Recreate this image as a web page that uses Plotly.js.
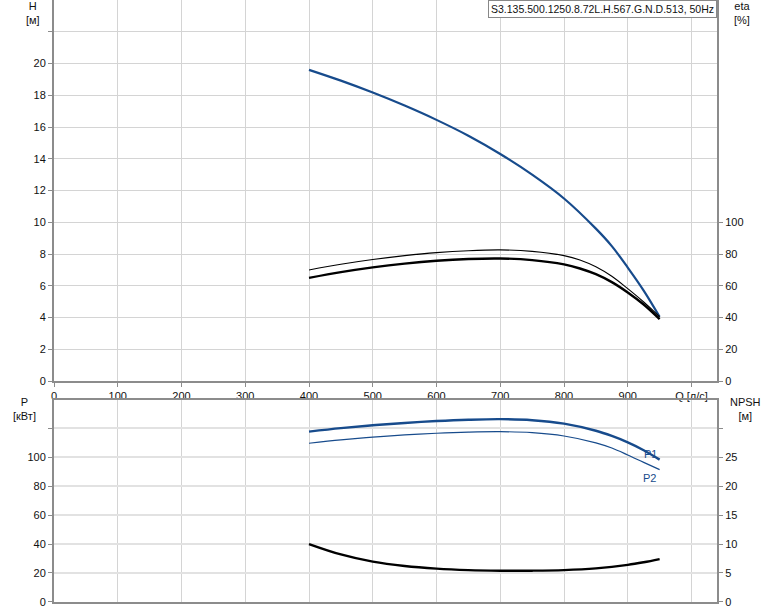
<!DOCTYPE html>
<html><head><meta charset="utf-8">
<script src="https://cdn.plot.ly/plotly-3.0.1.min.js"></script>
<style>body{margin:0;background:#fff}#c{width:774px;height:611px}</style>
</head><body><div id="c"></div>
<script>
// Data
const qH = [400, 450, 500, 550, 600, 650, 700, 750, 800, 850, 875, 900, 925, 950];
const head = [19.6, 18.92, 18.17, 17.35, 16.45, 15.45, 14.3, 13.0, 11.5, 9.6, 8.5, 7.15, 5.7, 4.05];
const qEta = [400, 450, 500, 550, 600, 650, 700, 750, 800, 825, 850, 875, 900, 925, 950];
const etaThin = [70, 73.6, 76.6, 79.0, 80.9, 82.1, 82.6, 81.7, 79.0, 76.3, 72.0, 66.0, 58.2, 49.8, 40.5];
const etaThick = [65, 68.6, 71.6, 74.0, 75.8, 76.9, 77.2, 76.2, 73.5, 70.9, 67.3, 62.3, 55.8, 48.2, 39.0];
const qP = [400, 450, 500, 550, 600, 650, 700, 750, 800, 850, 875, 900, 925, 950];
const p1 = [117.5, 119.9, 121.9, 123.5, 124.8, 125.7, 126.1, 125.4, 123.0, 118.1, 114.5, 110.1, 104.7, 98.2];
const p2 = [109.5, 111.8, 113.7, 115.2, 116.4, 117.2, 117.5, 116.8, 114.5, 109.8, 106.2, 101.4, 96.3, 91.3];
const qN = [400, 450, 500, 550, 600, 650, 700, 750, 800, 850, 900, 925, 950];
const npsh = [10, 8.2, 6.95, 6.2, 5.75, 5.5, 5.4, 5.4, 5.5, 5.8, 6.4, 6.85, 7.4];
const xTicks = [0, 100, 200, 300, 400, 500, 600, 700, 800, 900, 1000];
const xTickText = ["0", "100", "200", "300", "400", "500", "600", "700", "800", "900", "Q [л/с]"];
const hTicks = [0, 2, 4, 6, 8, 10, 12, 14, 16, 18, 20, 22];
const hTickText = ["0", "2", "4", "6", "8", "10", "12", "14", "16", "18", "20", ""];
const etaTicks = [0, 20, 40, 60, 80, 100];
const pTicks = [0, 20, 40, 60, 80, 100, 120];
const pTickText = ["0", "20", "40", "60", "80", "100", ""];
const nTicks = [0, 5, 10, 15, 20, 25, 30];
const nTickText = ["0", "5", "10", "15", "20", "25", ""];
const titleText = "S3.135.500.1250.8.72L.H.567.G.N.D.513, 50Hz";

const blue = "#174b8c";
const font = {family: "Liberation Sans, Arial, sans-serif", size: 11, color: "#111"};
const axisCommon = {showline: true, linecolor: "#8c8c8c", linewidth: 2, ticks: "outside", ticklen: 4, tickcolor: "#8c8c8c", tickfont: font, zeroline: false, fixedrange: true};

const traces = [
  {x: qH, y: head, xaxis: "x", yaxis: "y", mode: "lines", line: {color: blue, width: 2.2, shape: "spline"}, hoverinfo: "skip"},
  {x: qEta, y: etaThin, xaxis: "x", yaxis: "y3", mode: "lines", line: {color: "#000", width: 1.1, shape: "spline"}, hoverinfo: "skip"},
  {x: qEta, y: etaThick, xaxis: "x", yaxis: "y3", mode: "lines", line: {color: "#000", width: 2.4, shape: "spline"}, hoverinfo: "skip"},
  {x: qP, y: p1, xaxis: "x2", yaxis: "y2", mode: "lines", line: {color: blue, width: 2.4, shape: "spline"}, hoverinfo: "skip"},
  {x: qP, y: p2, xaxis: "x2", yaxis: "y2", mode: "lines", line: {color: blue, width: 1.2, shape: "spline"}, hoverinfo: "skip"},
  {x: qN, y: npsh, xaxis: "x2", yaxis: "y4", mode: "lines", line: {color: "#000", width: 2.4, shape: "spline"}, hoverinfo: "skip"}
];

const layout = {
  width: 774, height: 611,
  margin: {l: 54, r: 57, t: 0, b: 9},
  paper_bgcolor: "#fff", plot_bgcolor: "#fff",
  showlegend: false,
  font: font,
  xaxis: Object.assign({}, axisCommon, {domain: [0, 1], range: [0, 1040], tickvals: xTicks, ticktext: xTickText, showgrid: true, gridcolor: "#d4d4d4", gridwidth: 1, anchor: "y"}),
  yaxis: Object.assign({}, axisCommon, {domain: [0.367, 1], range: [0, 24], tickvals: hTicks, ticktext: hTickText, showgrid: true, gridcolor: "#d4d4d4", anchor: "x"}),
  yaxis3: Object.assign({}, axisCommon, {overlaying: "y", side: "right", range: [0, 240], tickvals: etaTicks, showgrid: false, anchor: "x"}),
  xaxis2: Object.assign({}, axisCommon, {domain: [0, 1], range: [0, 1040], tickvals: xTicks, showticklabels: false, ticks: "", showgrid: true, gridcolor: "#d4d4d4", anchor: "y2", mirror: true}),
  yaxis2: Object.assign({}, axisCommon, {domain: [0, 0.3355], range: [0, 139.3], tickvals: pTicks, ticktext: pTickText, showgrid: true, gridcolor: "#e2e2e2", gridwidth: 2, anchor: "x2"}),
  yaxis4: Object.assign({}, axisCommon, {overlaying: "y2", side: "right", range: [0, 34.825], tickvals: nTicks, ticktext: nTickText, showgrid: false, anchor: "x2"}),
  annotations: [
    {xref: "paper", yref: "paper", x: 1, y: 1, xanchor: "right", yanchor: "top", text: titleText, showarrow: false, font: {family: "Liberation Sans, Arial, sans-serif", size: 10.5, color: "#111"}, bordercolor: "#888", borderwidth: 1, borderpad: 2, bgcolor: "#fff"},
    {xref: "paper", yref: "paper", x: -0.032, y: 1.003, xanchor: "center", yanchor: "top", text: "H<br>[м]", showarrow: false, font: font, align: "center"},
    {xref: "paper", yref: "paper", x: 1.037, y: 1.003, xanchor: "center", yanchor: "top", text: "eta<br>[%]", showarrow: false, font: font, align: "center"},
    {xref: "paper", yref: "paper", x: -0.045, y: 0.345, xanchor: "center", yanchor: "top", text: "P<br>[кВт]", showarrow: false, font: font, align: "center"},
    {xref: "paper", yref: "paper", x: 1.043, y: 0.345, xanchor: "center", yanchor: "top", text: "NPSH<br>[м]", showarrow: false, font: font, align: "center"},
    {xref: "x2", yref: "y2", x: 936, y: 102, xanchor: "center", yanchor: "middle", text: "P1", showarrow: false, font: {family: "Liberation Sans, Arial, sans-serif", size: 11, color: blue}},
    {xref: "x2", yref: "y2", x: 934, y: 85.5, xanchor: "center", yanchor: "middle", text: "P2", showarrow: false, font: {family: "Liberation Sans, Arial, sans-serif", size: 11, color: blue}}
  ]
};

Plotly.newPlot("c", traces, layout, {staticPlot: true, displayModeBar: false});
</script></body></html>
